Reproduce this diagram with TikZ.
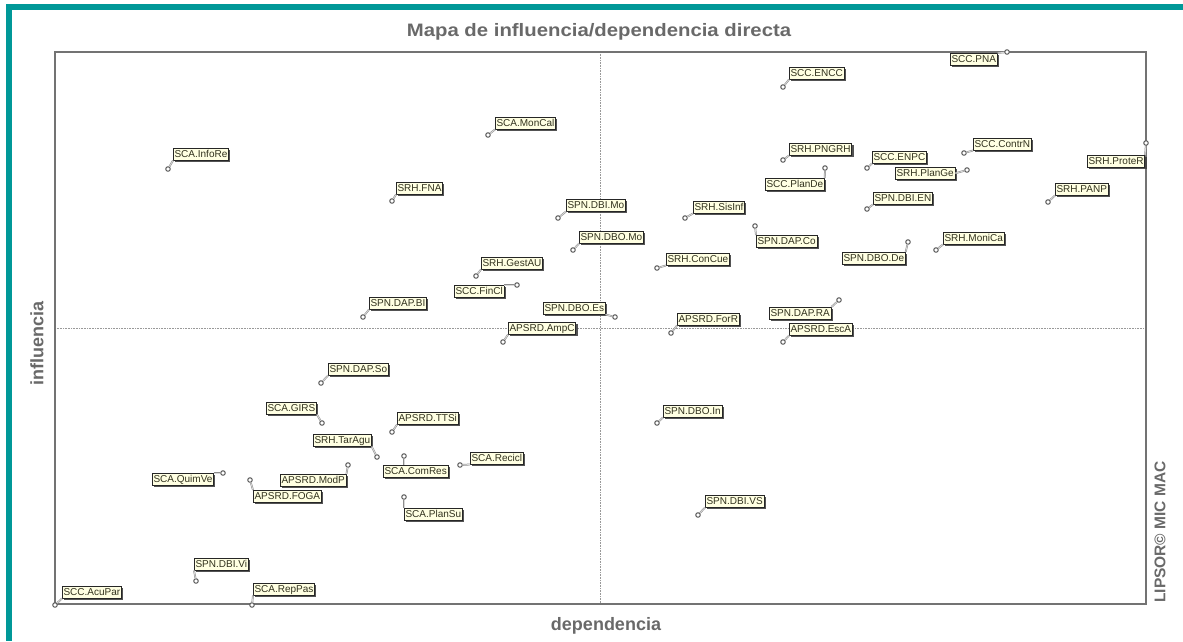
\documentclass[tikz,border=0pt]{standalone}
\usepackage{fontspec}
\setmainfont{Liberation Sans}
\usepackage{graphicx}
\usepackage{xcolor}
\usetikzlibrary{shadows}
\definecolor{frameteal}{RGB}{0,152,152}
\definecolor{axisgray}{RGB}{105,105,105}
\definecolor{tagfill}{RGB}{255,255,226}
\definecolor{tagtext}{RGB}{50,50,30}

\begin{document}
\begin{tikzpicture}[x=1pt, y=-1pt,
	tag/.style={draw=black!85, fill=tagfill, text=tagtext, anchor=north west,
		font=\fontsize{10}{11}\selectfont, inner xsep=1.2pt, inner ysep=1.4pt,
		text height=7.6pt, text depth=1.4pt, line width=0.7pt,
		drop shadow={shadow xshift=1.8pt, shadow yshift=-1.8pt, fill=black!75, opacity=0.9}},
	pt/.style={circle, draw=black!65, fill=white, line width=1pt, inner sep=0pt, minimum size=4.5pt},
	lead/.style={draw=black!45, line width=0.5pt, double=black!15, double distance=0.8pt},
	axislbl/.style={font=\bfseries\fontsize{18}{20}\selectfont, text=axisgray},
	quad/.style={black!40, densely dotted, line width=0.6pt}]
	\useasboundingbox (0,0) rectangle (1183,641);
	\draw [frameteal, line width=6pt] (6,7) -- (1183,7);
	\draw [frameteal, line width=6pt] (9,7) -- (9,641);
	\node[font=\bfseries\fontsize{18}{20}\selectfont, text=axisgray, anchor=base] (title) at (599,36) {\scalebox{1.13}[1]{Mapa de influencia/dependencia directa}};
	\draw [quad] (600,52) -- (600,604);
	\draw [quad] (55,328) -- (1146,328);
	\draw [black!55, line width=1.6pt] (55,52) rectangle (1146,604);
	\node[axislbl, anchor=base] (xlbl) at (606,630) {dependencia};
	\node[axislbl, rotate=90] (ylbl) at (37,343) {influencia};
	\node[font=\bfseries\fontsize{15.5}{17}\selectfont, text=axisgray, rotate=90] (brand) at (1160,532) {LIPSOR© MIC MAC};

	\node[pt] (pSCAInfoRe) at (168,169) {};
	\node[tag] (SCAInfoRe) at (173,148) {SCA.InfoRe};
	\draw [lead] (SCAInfoRe.south west) -- (pSCAInfoRe);
	\node[pt] (pSCAMonCal) at (488,135) {};
	\node[tag] (SCAMonCal) at (495,117) {SCA.MonCal};
	\draw [lead] (SCAMonCal.south west) -- (pSCAMonCal);
	\node[pt] (pSRHFNA) at (392,201) {};
	\node[tag] (SRHFNA) at (396,182) {SRH.FNA};
	\draw [lead] (SRHFNA.south west) -- (pSRHFNA);
	\node[pt] (pSPNDBIMo) at (558,218) {};
	\node[tag] (SPNDBIMo) at (566,199) {SPN.DBI.Mo};
	\draw [lead] (SPNDBIMo.south west) -- (pSPNDBIMo);
	\node[pt] (pSRHSisInf) at (685,218) {};
	\node[tag] (SRHSisInf) at (693,201) {SRH.SisInf};
	\draw [lead] (SRHSisInf.south west) -- (pSRHSisInf);
	\node[pt] (pSPNDBOMo) at (573,250) {};
	\node[tag] (SPNDBOMo) at (579,231) {SPN.DBO.Mo};
	\draw [lead] (SPNDBOMo.south west) -- (pSPNDBOMo);
	\node[pt] (pSRHConCue) at (657,268) {};
	\node[tag] (SRHConCue) at (666,253) {SRH.ConCue};
	\draw [lead] (SRHConCue.south west) -- (pSRHConCue);
	\node[pt] (pSCCPlanDe) at (825,168) {};
	\node[tag] (SCCPlanDe) at (765,178) {SCC.PlanDe};
	\draw [lead] (SCCPlanDe.north east) -- (pSCCPlanDe);
	\node[pt] (pSPNDAPCo) at (755,226) {};
	\node[tag] (SPNDAPCo) at (756,235) {SPN.DAP.Co};
	\draw [lead] (SPNDAPCo.north west) -- (pSPNDAPCo);
	\node[pt] (pSCCENCC) at (783,87) {};
	\node[tag] (SCCENCC) at (789,67) {SCC.ENCC};
	\draw [lead] (SCCENCC.south west) -- (pSCCENCC);
	\node[pt] (pSCCPNA) at (1007,52) {};
	\node[tag] (SCCPNA) at (950,53) {SCC.PNA};
	\draw [lead] (SCCPNA.north east) -- (pSCCPNA);
	\node[pt] (pSRHPNGRH) at (783,160) {};
	\node[tag] (SRHPNGRH) at (789,143) {SRH.PNGRH};
	\draw [lead] (SRHPNGRH.south west) -- (pSRHPNGRH);
	\node[pt] (pSCCENPC) at (867,168) {};
	\node[tag] (SCCENPC) at (872,151) {SCC.ENPC};
	\draw [lead] (SCCENPC.south west) -- (pSCCENPC);
	\node[pt] (pSCCContrN) at (964,153) {};
	\node[tag] (SCCContrN) at (973,138) {SCC.ContrN};
	\draw [lead] (SCCContrN.south west) -- (pSCCContrN);
	\node[pt] (pSRHPlanGe) at (967,170) {};
	\node[tag] (SRHPlanGe) at (895,167) {SRH.PlanGe};
	\draw [lead] (SRHPlanGe.east) -- (pSRHPlanGe);
	\node[pt] (pSRHProteR) at (1146,143) {};
	\node[tag] (SRHProteR) at (1087,155) {SRH.ProteR};
	\draw [lead] (SRHProteR.north east) -- (pSRHProteR);
	\node[pt] (pSRHPANP) at (1048,202) {};
	\node[tag] (SRHPANP) at (1055,183) {SRH.PANP};
	\draw [lead] (SRHPANP.south west) -- (pSRHPANP);
	\node[pt] (pSPNDBIEN) at (867,209) {};
	\node[tag] (SPNDBIEN) at (873,192) {SPN.DBI.EN};
	\draw [lead] (SPNDBIEN.south west) -- (pSPNDBIEN);
	\node[pt] (pSRHMoniCa) at (936,250) {};
	\node[tag] (SRHMoniCa) at (943,232) {SRH.MoniCa};
	\draw [lead] (SRHMoniCa.south west) -- (pSRHMoniCa);
	\node[pt] (pSPNDBODe) at (908,242) {};
	\node[tag] (SPNDBODe) at (842,252) {SPN.DBO.De};
	\draw [lead] (SPNDBODe.north east) -- (pSPNDBODe);
	\node[pt] (pSPNDAPRA) at (839,300) {};
	\node[tag] (SPNDAPRA) at (769,307) {SPN.DAP.RA};
	\draw [lead] (SPNDAPRA.north east) -- (pSPNDAPRA);
	\node[pt] (pAPSRDEscA) at (783,342) {};
	\node[tag] (APSRDEscA) at (789,323) {APSRD.EscA};
	\draw [lead] (APSRDEscA.south west) -- (pAPSRDEscA);
	\node[pt] (pSRHGestAU) at (476,276) {};
	\node[tag] (SRHGestAU) at (481,257) {SRH.GestAU};
	\draw [lead] (SRHGestAU.south west) -- (pSRHGestAU);
	\node[pt] (pSCCFinCl) at (517,285) {};
	\node[tag] (SCCFinCl) at (454,285) {SCC.FinCl};
	\draw [lead] (SCCFinCl.north east) -- (pSCCFinCl);
	\node[pt] (pSPNDAPBI) at (363,317) {};
	\node[tag] (SPNDAPBI) at (369,297) {SPN.DAP.BI};
	\draw [lead] (SPNDAPBI.south west) -- (pSPNDAPBI);
	\node[pt] (pSPNDBOEs) at (615,317) {};
	\node[tag] (SPNDBOEs) at (543,302) {SPN.DBO.Es};
	\draw [lead] (SPNDBOEs.south east) -- (pSPNDBOEs);
	\node[pt] (pAPSRDAmpC) at (503,342) {};
	\node[tag] (APSRDAmpC) at (508,322) {APSRD.AmpC};
	\draw [lead] (APSRDAmpC.south west) -- (pAPSRDAmpC);
	\node[pt] (pAPSRDForR) at (671,333) {};
	\node[tag] (APSRDForR) at (677,313) {APSRD.ForR};
	\draw [lead] (APSRDForR.south west) -- (pAPSRDForR);
	\node[pt] (pSPNDAPSo) at (321,383) {};
	\node[tag] (SPNDAPSo) at (328,363) {SPN.DAP.So};
	\draw [lead] (SPNDAPSo.south west) -- (pSPNDAPSo);
	\node[pt] (pSCAGIRS) at (322,423) {};
	\node[tag] (SCAGIRS) at (266,402) {SCA.GIRS};
	\draw [lead] (SCAGIRS.south east) -- (pSCAGIRS);
	\node[pt] (pAPSRDTTSi) at (392,432) {};
	\node[tag] (APSRDTTSi) at (397,412) {APSRD.TTSi};
	\draw [lead] (APSRDTTSi.south west) -- (pAPSRDTTSi);
	\node[pt] (pSRHTarAgu) at (377,457) {};
	\node[tag] (SRHTarAgu) at (313,434) {SRH.TarAgu};
	\draw [lead] (SRHTarAgu.south east) -- (pSRHTarAgu);
	\node[pt] (pSCAComRes) at (404,456) {};
	\node[tag] (SCAComRes) at (383,465) {SCA.ComRes};
	\draw [lead] (pSCAComRes) -- (pSCAComRes |- SCAComRes.north);
	\node[pt] (pSCARecicl) at (460,465) {};
	\node[tag] (SCARecicl) at (470,452) {SCA.Recicl};
	\draw [lead] (SCARecicl.south west) -- (pSCARecicl);
	\node[pt] (pAPSRDModP) at (348,465) {};
	\node[tag] (APSRDModP) at (280,474) {APSRD.ModP};
	\draw [lead] (APSRDModP.north east) -- (pAPSRDModP);
	\node[pt] (pAPSRDFOGA) at (250,480) {};
	\node[tag] (APSRDFOGA) at (253,490) {APSRD.FOGA};
	\draw [lead] (APSRDFOGA.north west) -- (pAPSRDFOGA);
	\node[pt] (pSCAPlanSu) at (404,497) {};
	\node[tag] (SCAPlanSu) at (404,508) {SCA.PlanSu};
	\draw [lead] (SCAPlanSu.north west) -- (pSCAPlanSu);
	\node[pt] (pSCAQuimVe) at (223,473) {};
	\node[tag] (SCAQuimVe) at (152,473) {SCA.QuimVe};
	\draw [lead] (SCAQuimVe.north east) -- (pSCAQuimVe);
	\node[pt] (pSPNDBIVS) at (698,515) {};
	\node[tag] (SPNDBIVS) at (705,495) {SPN.DBI.VS};
	\draw [lead] (SPNDBIVS.south west) -- (pSPNDBIVS);
	\node[pt] (pSPNDBOIn) at (657,423) {};
	\node[tag] (SPNDBOIn) at (663,405) {SPN.DBO.In};
	\draw [lead] (SPNDBOIn.south west) -- (pSPNDBOIn);
	\node[pt] (pSPNDBIVi) at (196,581) {};
	\node[tag] (SPNDBIVi) at (194,558) {SPN.DBI.Vi};
	\draw [lead] (SPNDBIVi.south west) -- (pSPNDBIVi);
	\node[pt] (pSCCAcuPar) at (55,605) {};
	\node[tag] (SCCAcuPar) at (62,586) {SCC.AcuPar};
	\draw [lead] (SCCAcuPar.south west) -- (pSCCAcuPar);
	\node[pt] (pSCARepPas) at (252,605) {};
	\node[tag] (SCARepPas) at (253,583) {SCA.RepPas};
	\draw [lead] (SCARepPas.south west) -- (pSCARepPas);
\end{tikzpicture}
\end{document}
